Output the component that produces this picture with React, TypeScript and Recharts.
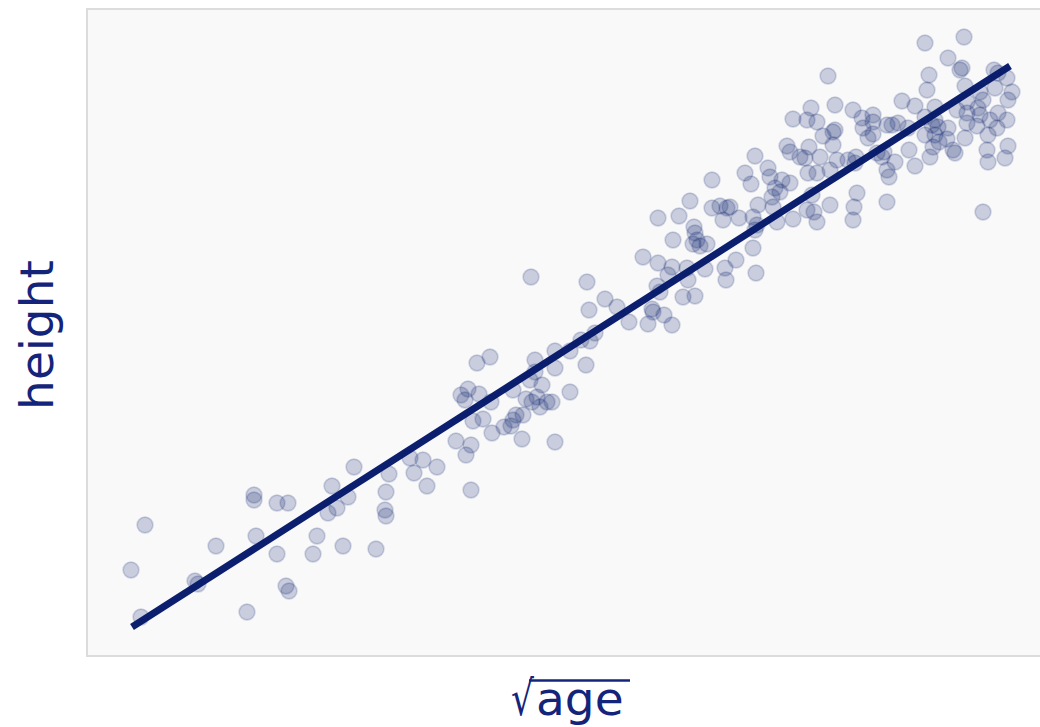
import React from "react";
import { ScatterChart, Scatter, XAxis, YAxis, ReferenceArea, ReferenceLine } from "recharts";

// sqrt(age) values
const sqrtAge: number[] = [
  0.44, 0.58, 0.54, 1.08, 1.11, 1.29, 1.60, 1.67, 1.67, 1.69, 1.90, 2.01, 1.90, 1.99, 2.02, 2.30, 2.26, 2.45, 2.41, 2.50,
  2.61, 2.56, 2.67, 2.99, 2.98, 2.99, 2.89, 3.02, 3.27, 3.23, 3.36, 3.50, 3.40, 3.84, 3.69, 3.84, 3.79, 3.90, 4.03, 3.74,
  3.81, 3.78, 3.92, 4.04, 3.86, 3.96, 4.05, 4.17, 4.24, 4.26, 4.29, 4.36, 4.35, 4.26, 4.39, 4.43, 4.48, 4.48, 4.55, 4.45,
  4.53, 4.50, 4.60, 4.65, 4.68, 4.68, 4.83, 4.68, 4.83, 4.94, 4.99, 4.44, 5.00, 5.18, 5.02, 5.30, 5.42, 5.03, 5.08, 5.56,
  5.71, 5.85, 5.81, 6.00, 6.01, 6.18, 5.70, 5.73, 5.65, 5.66, 5.77, 5.61, 5.85, 5.96, 6.08, 6.38, 6.39, 6.49, 6.69, 6.66,
  5.71, 5.92, 6.07, 6.08, 5.86, 6.06, 6.10, 6.20, 6.13, 6.03, 6.25, 6.25, 6.33, 6.40, 6.43, 6.36, 6.52, 6.66, 6.70, 6.71,
  6.68, 6.58, 6.64, 7.41, 7.24, 7.48, 7.66, 7.06, 7.20, 7.30, 7.48, 7.46, 7.36, 7.46, 7.75, 7.86, 7.86, 7.76, 7.81, 8.00,
  7.00, 7.03, 7.13, 7.18, 7.22, 7.33, 7.50, 7.61, 7.69, 7.68, 7.21, 7.30, 7.43, 6.81, 6.83, 6.95, 7.03, 6.88, 6.93, 6.85,
  6.86, 7.25, 7.43, 7.20, 7.27, 7.30, 7.06, 6.90, 7.70, 7.67, 7.66, 6.68, 8.00, 7.95, 7.90, 7.86, 8.38, 8.77, 8.61, 8.73,
  8.75, 8.42, 8.40, 8.78, 8.15, 8.28, 8.48, 9.07, 9.11, 9.20, 9.25, 9.21, 9.08, 8.93, 8.96, 8.91, 8.80, 8.70, 8.93, 9.03,
  9.11, 9.20, 9.10, 9.01, 9.21, 9.00, 9.01, 9.18, 8.80, 8.90, 8.78, 8.68, 8.66, 8.60, 8.61, 8.51, 8.45, 8.48, 8.52, 8.46,
  8.43, 8.38, 8.05, 8.11, 8.21, 8.22, 8.28, 8.02, 8.00, 8.96, 7.97, 8.08, 8.38, 8.48, 8.80,
];

// height values
const heightVals: number[] = [
  8.6, 13.1, 3.9, 7.5, 7.2, 11.0, 4.4, 16.1, 15.6, 12.0, 15.3, 15.3, 10.2, 7.0, 6.5, 12.0, 10.2, 17.0, 14.3, 14.8,
  15.9, 11.0, 18.9, 16.4, 14.6, 14.0, 10.7, 18.2, 18.3, 19.8, 19.6, 18.9, 17.0, 16.6, 21.5, 21.1, 20.1, 29.3, 29.9, 26.1,
  26.7, 25.6, 26.2, 25.4, 23.5, 23.7, 22.3, 22.9, 23.0, 23.6, 24.1, 24.1, 21.7, 26.6, 25.7, 27.6, 28.4, 29.6, 27.1, 25.4,
  24.9, 25.9, 25.4, 25.4, 30.5, 28.8, 26.4, 21.4, 30.5, 31.6, 29.1, 37.9, 37.4, 35.7, 34.6, 34.9, 33.4, 31.5, 32.3, 39.9,
  39.3, 38.9, 38.1, 38.8, 37.6, 38.7, 37.0, 36.4, 34.7, 34.4, 34.1, 33.2, 33.1, 35.9, 36.0, 38.8, 37.6, 39.6, 38.3, 40.8,
  43.8, 44.0, 42.9, 42.3, 41.6, 41.2, 41.6, 41.2, 41.0, 45.5, 47.6, 44.8, 45.0, 44.8, 44.9, 43.6, 43.8, 43.9, 43.1, 45.1,
  50.0, 48.3, 47.2, 58.0, 54.8, 55.1, 54.6, 53.7, 53.6, 53.4, 52.6, 52.4, 52.0, 51.1, 53.8, 54.1, 53.4, 52.8, 51.8, 53.1,
  51.0, 50.4, 49.9, 49.8, 50.9, 49.9, 49.6, 49.6, 49.9, 49.3, 48.3, 48.3, 48.6, 48.8, 47.9, 47.6, 47.3, 46.8, 46.4, 45.9,
  44.9, 46.1, 45.1, 44.6, 44.4, 43.4, 43.7, 43.4, 46.3, 44.9, 43.6, 42.6, 48.6, 49.9, 50.3, 52.2, 61.3, 61.9, 59.8, 58.6,
  58.8, 58.1, 56.6, 57.0, 55.5, 55.0, 54.9, 58.6, 58.3, 57.8, 56.4, 55.6, 56.8, 56.4, 55.6, 54.8, 55.4, 54.6, 54.1, 53.6,
  54.3, 53.6, 52.8, 52.1, 51.0, 50.6, 49.4, 49.8, 53.3, 53.0, 51.8, 50.3, 50.6, 51.7, 52.8, 52.9, 53.1, 52.1, 51.4, 50.9,
  49.9, 52.1, 53.1, 53.3, 52.8, 50.6, 49.0, 47.9, 45.4, 44.4, 50.4, 49.4, 53.9, 53.6, 54.3,
];

// fitted regression line endpoints
const fitX: number[] = [0.45, 9.23];
const fitY: number[] = [2.9, 59.0];

const xDomain: [number, number] = [0, 9.73];
const yDomain: [number, number] = [0, 64.7];

const NAVY = "#0c1f6e";
const LABEL = "#14247a";

const points = sqrtAge.map((x, i) => ({ x, y: heightVals[i] }));

const Dot = (props: any) => (
  <circle
    cx={props.cx}
    cy={props.cy}
    r={7.9}
    fill={NAVY}
    fillOpacity={0.2}
    stroke={NAVY}
    strokeOpacity={0.18}
    strokeWidth={1.6}
  />
);

const YLabel = () => (
  <text
    x={53}
    y={335}
    transform="rotate(-90 53 335)"
    textAnchor="middle"
    fontFamily="DejaVu Sans"
    fontSize={47}
    fill={LABEL}
  >
    height
  </text>
);

const XLabel = () => (
  <g>
    <text
      transform="translate(534 715) scale(0.75 1)"
      textAnchor="end"
      fontFamily="DejaVu Sans"
      fontSize={48}
      fill={LABEL}
    >
      √
    </text>
    <text x={536} y={715} textAnchor="start" fontFamily="DejaVu Sans" fontSize={47} fill={LABEL}>
      age
    </text>
    <line x1={529} y1={680.5} x2={630} y2={680.5} stroke={LABEL} strokeWidth={2.5} />
  </g>
);

export default function App() {
  return (
    <div
      style={{
        position: "fixed",
        left: 0,
        top: 0,
        width: 1040,
        height: 727,
        overflow: "hidden",
        background: "#ffffff",
      }}
    >
      <ScatterChart width={1070} height={727} margin={{ top: 9, right: 10, bottom: 0, left: 0 }}>
        <XAxis
          type="number"
          dataKey="x"
          domain={xDomain}
          allowDataOverflow
          height={71}
          tick={false}
          tickLine={false}
          axisLine={false}
          label={<XLabel />}
        />
        <YAxis
          type="number"
          dataKey="y"
          domain={yDomain}
          allowDataOverflow
          width={87}
          tick={false}
          tickLine={false}
          axisLine={false}
          label={<YLabel />}
        />
        <ReferenceArea
          x1={xDomain[0]}
          x2={xDomain[1]}
          y1={yDomain[0]}
          y2={yDomain[1]}
          fill="#f9f9f9"
          fillOpacity={1}
          stroke="#dcdcdc"
          strokeWidth={2}
        />
        <Scatter data={points} shape={<Dot />} isAnimationActive={false} />
        <ReferenceLine
          segment={[
            { x: fitX[0], y: fitY[0] },
            { x: fitX[1], y: fitY[1] },
          ]}
          stroke={NAVY}
          strokeWidth={7}
        />
      </ScatterChart>
    </div>
  );
}
